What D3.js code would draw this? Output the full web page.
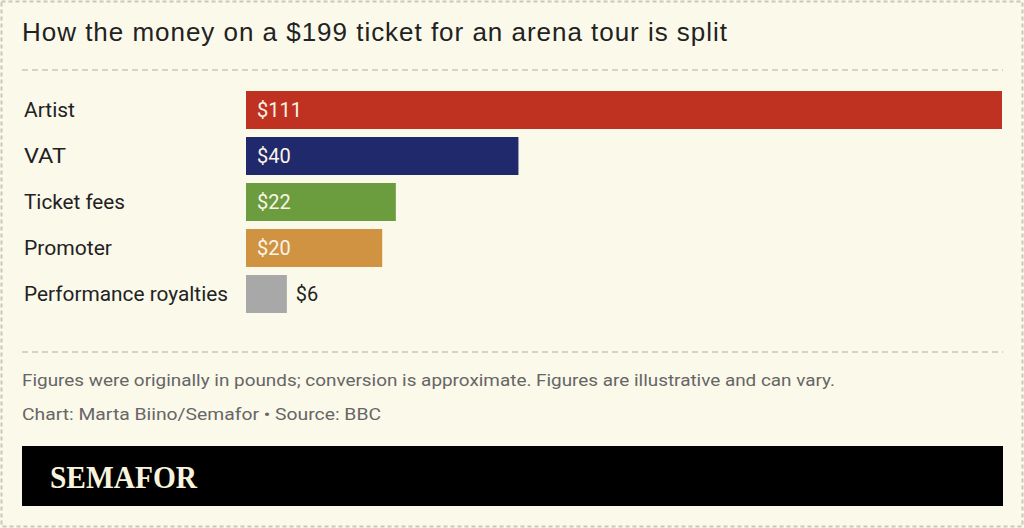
<!DOCTYPE html>
<html><head><meta charset="utf-8">
<script src="https://cdn.jsdelivr.net/npm/d3@7"></script>
<style>body{margin:0;background:#fbf9ea;} svg{display:block;}</style>
</head><body>
<svg id="c" width="1024" height="528"></svg>
<script>
const categories = ["Artist","VAT","Ticket fees","Promoter","Performance royalties"];
const values = [111,40,22,20,6];
const valueLabels = ["$111","$40","$22","$20","$6"];
const colors = ["#bf3222","#20296b","#6b9c3d","#cf9342","#a8a8a8"];

const svg = d3.select("#c");
const W = 1024, H = 528;
svg.append("rect").attr("x",0).attr("y",0).attr("width",W).attr("height",H).attr("fill","#fbf9ea");
svg.append("rect").attr("x",1.5).attr("y",1.5).attr("width",W-3).attr("height",H-3)
  .attr("fill","none").attr("stroke","#c8c8c0").attr("stroke-width",2).attr("stroke-dasharray","4,3");

svg.append("text").attr("x",22).attr("y",41).text("How the money on a $199 ticket for an arena tour is split")
  .attr("font-family","Liberation Sans, Arial, sans-serif").attr("font-size",26).attr("fill","#222")
  .attr("textLength",705).attr("lengthAdjust","spacing");

const dash = (y)=>svg.append("line").attr("x1",22).attr("x2",1003).attr("y1",y).attr("y2",y)
  .attr("stroke","#c8c6b8").attr("stroke-width",1.5).attr("stroke-dasharray","6,4");
dash(70); dash(352);

const x = d3.scaleLinear().domain([0,111]).range([246,1002]);
const y = d3.scaleBand().domain(categories).range([91,313]).paddingInner(0.174).paddingOuter(0);

const labFont = "Roboto, 'Noto Sans', sans-serif";
const g = svg.append("g");
g.selectAll("rect.bar").data(categories).join("rect").attr("class","bar")
  .attr("x",x(0)).attr("y",d=>y(d)).attr("width",(d,i)=>x(values[i])-x(0)).attr("height",y.bandwidth())
  .attr("fill",(d,i)=>colors[i]);
g.selectAll("text.cat").data(categories).join("text").attr("class","cat")
  .attr("x",24).attr("y",d=>y(d)+y.bandwidth()/2+7).text(d=>d)
  .attr("font-family",labFont).attr("font-size",20).attr("fill","#222")
  .attr("textLength",(d,i)=>[51,42,101,88,204][i]).attr("lengthAdjust","spacingAndGlyphs");
g.selectAll("text.val").data(categories).join("text").attr("class","val")
  .attr("x",(d,i)=> values[i] < 10 ? x(values[i])+9 : x(0)+11)
  .attr("y",d=>y(d)+y.bandwidth()/2+7).text((d,i)=>valueLabels[i])
  .attr("font-family",labFont).attr("font-size",20)
  .attr("fill",(d,i)=> values[i] < 10 ? "#222" : "#fbf4e8");

svg.append("text").attr("x",22).attr("y",386).text("Figures were originally in pounds; conversion is approximate. Figures are illustrative and can vary.")
  .attr("font-family",labFont).attr("font-size",17).attr("fill","#666")
  .attr("textLength",813).attr("lengthAdjust","spacingAndGlyphs");
svg.append("text").attr("x",22).attr("y",420).text("Chart: Marta Biino/Semafor \u2022 Source: BBC")
  .attr("font-family",labFont).attr("font-size",17).attr("fill","#666")
  .attr("textLength",359).attr("lengthAdjust","spacingAndGlyphs");

svg.append("rect").attr("x",22).attr("y",446).attr("width",981).attr("height",60).attr("fill","#000");
svg.append("text").attr("x",50).attr("y",488).text("SEMAFOR")
  .attr("font-family","Liberation Serif, 'DejaVu Serif', serif").attr("font-weight","bold").attr("font-size",31)
  .attr("fill","#f8f3dc").attr("textLength",147).attr("lengthAdjust","spacingAndGlyphs");
</script>
</body></html>
